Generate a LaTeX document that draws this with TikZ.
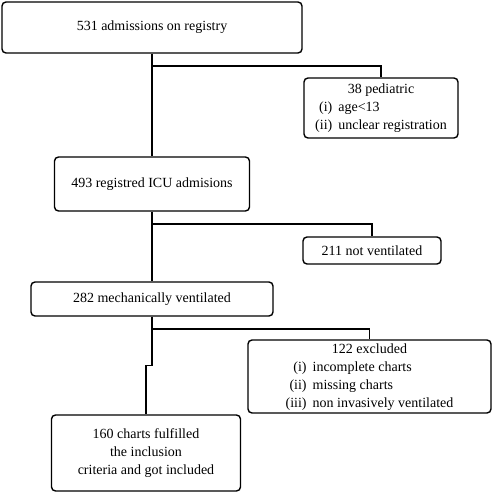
\documentclass[tikz,border=0pt]{standalone}
\usepackage{fontspec}
\setmainfont{Liberation Serif}
\usepackage{tikz}
\tikzset{font={\fontsize{14pt}{18pt}\selectfont}}

\begin{document}
\begin{tikzpicture}[x=1pt,y=-1pt,line width=1.4pt,
                    flow box/.style={draw,rounded corners=4pt,inner sep=0pt,align=center}]

  \useasboundingbox (0,0) rectangle (493,493);

  \node[flow box,minimum width=300pt,minimum height=51pt] (reg) at (152,27.5) {531 admissions on registry};
  \node[flow box,minimum width=154pt,minimum height=60pt] (ped) at (381,108)
    {\begin{tabular}{@{}r@{\hspace{6pt}}l@{}}\multicolumn{2}{c}{38 pediatric}\\(i)&age<13\\(ii)&unclear registration\end{tabular}};
  \node[flow box,minimum width=195pt,minimum height=54pt] (icu) at (152,184) {493 registred ICU admisions};
  \node[flow box,minimum width=138pt,minimum height=27pt] (notv) at (372,250.5) {211 not ventilated};
  \node[flow box,minimum width=242pt,minimum height=34pt] (vent) at (152,299) {282 mechanically ventilated};
  \node[flow box,minimum width=243pt,minimum height=73pt] (excl) at (369.5,376.5)
    {\begin{tabular}{@{}r@{\hspace{6pt}}l@{}}\multicolumn{2}{c}{122 excluded}\\(i)&incomplete charts\\(ii)&missing charts\\(iii)&non invasively ventilated\end{tabular}};
  \node[flow box,minimum width=189pt,minimum height=76pt] (incl) at (146,453)
    {160 charts fulfilled\\the inclusion\\criteria and got included};

  \coordinate (b1) at (152,66);
  \coordinate (b2) at (152,224);
  \coordinate (b3) at (152,329);

  \draw (reg) -- (icu);
  \draw (b1) -| (ped.north);
  \draw (icu) -- (vent);
  \draw (b2) -| (notv.north);
  \draw (vent.south) -- ++(0,49) -| (incl.north);
  \draw (b3) -| (excl.north);
\end{tikzpicture}
\end{document}
